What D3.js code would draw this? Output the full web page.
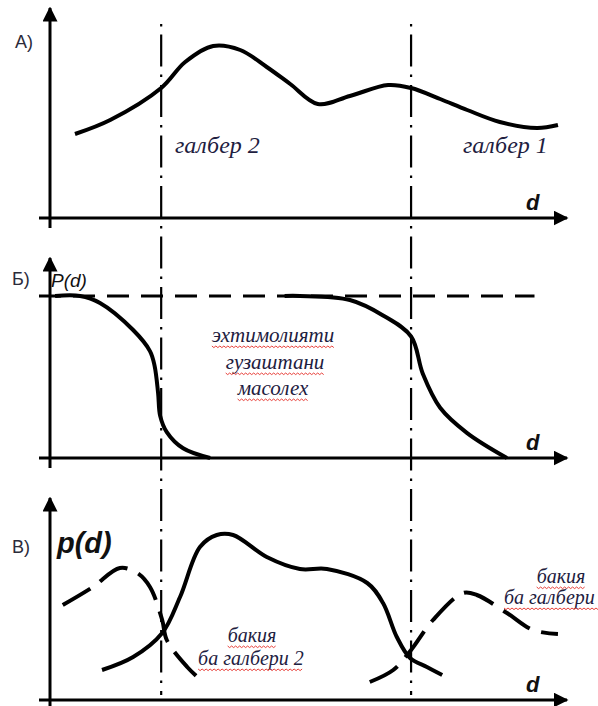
<!DOCTYPE html>
<meta charset="utf-8">
<head>
    <script src="https://d3js.org/d3.v7.min.js"></script>
    <style>
    body { margin: 0; background: white; }
    svg { background: white; display: block; }
    .lbl { font-family: "Liberation Sans", Arial, sans-serif; font-size: 18px; fill: #2b2b3a; }
    .note { font-family: "Liberation Serif", "Times New Roman", serif; font-style: italic; fill: #1e2040; }
    .dlab { font-family: "Liberation Sans", Arial, sans-serif; font-style: italic; fill: #111; }
    </style>
</head>
<body>
    <svg id="svgid" width="598" height="706"></svg>
    <script>
        // data (d in arbitrary units, values 0..1 per panel)
        var boundaries = [2.18, 7.08];   // галбер 2 / галбер 1

        var curveA = [[0.49,0.42],[1.18,0.49],[2.18,0.65],[2.65,0.78],[3.2,0.86],[3.73,0.84],
                      [4.25,0.755],[4.71,0.67],[5.25,0.57],[5.88,0.61],[6.63,0.665],[7.08,0.65],
                      [7.65,0.595],[8.18,0.54],[8.82,0.48],[9.55,0.45],[9.96,0.465]];

        var curveB1 = [[0.1,1.0],[0.59,1.0],[0.98,0.957],[1.63,0.79],[1.96,0.66],[2.05,0.57],
                       [2.12,0.4],[2.16,0.26],[2.29,0.16],[2.61,0.06],[3.14,0.0]];
        var curveB2 = [[4.6,1.0],[4.9,1.0],[5.88,0.975],[6.53,0.88],[7.08,0.75],[7.31,0.52],
                       [7.65,0.31],[8.18,0.154],[8.96,0.0]];

        var curveV  = [[1.02,0.15],[1.63,0.215],[2.2,0.335],[2.55,0.515],[2.94,0.765],[3.27,0.825],
                       [3.59,0.825],[4.25,0.715],[4.9,0.655],[5.43,0.655],[6.22,0.585],[6.53,0.485],
                       [6.8,0.315],[7.06,0.21],[7.39,0.165],[7.69,0.125]];
        var restLeft  = [[0.25,0.475],[0.84,0.565],[1.37,0.66],[1.71,0.635],[1.96,0.565],[2.2,0.4],
                         [2.29,0.3],[2.69,0.165],[3.0,0.09]];
        var restRight = [[6.27,0.09],[6.73,0.15],[7.08,0.25],[7.51,0.4],[8.1,0.535],[8.37,0.525],
                         [8.96,0.435],[9.47,0.35],[9.96,0.33]];

        var pLevel = 1;      // P(d) = 1 dashed line
        var levelEnd = 9.5;

        var svg = d3.select("#svgid");

        // arrow marker
        svg.append("defs").append("marker")
            .attr("id", "arr").attr("viewBox", "0 0 10 10")
            .attr("refX", 9).attr("refY", 5)
            .attr("markerWidth", 5).attr("markerHeight", 5)
            .attr("orient", "auto")
          .append("path").attr("d", "M0,0 L10,5 L0,10 z").attr("fill", "#000");

        var x = d3.scaleLinear().domain([0, 10]).range([50, 560]);
        var yA = d3.scaleLinear().domain([0, 1]).range([218, 18]);
        var yB = d3.scaleLinear().domain([0, 1]).range([458, 296]);
        var yV = d3.scaleLinear().domain([0, 1]).range([700, 500]);

        function line(y) {
            return d3.line().x(function(p){ return x(p[0]); }).y(function(p){ return y(p[1]); })
                .curve(d3.curveCatmullRom.alpha(0.5));
        }

        // axes for each panel
        function axes(y, top) {
            svg.append("line")
                .attr("x1", x(0)).attr("x2", x(0))
                .attr("y1", y(0) + 10).attr("y2", top)
                .attr("stroke", "#000").attr("stroke-width", 3)
                .attr("marker-end", "url(#arr)");
            svg.append("line")
                .attr("x1", x(0) - 11).attr("x2", 567)
                .attr("y1", y(0)).attr("y2", y(0))
                .attr("stroke", "#000").attr("stroke-width", 3)
                .attr("marker-end", "url(#arr)");
        }
        axes(yA, 8);
        axes(yB, 258);
        axes(yV, 498);

        // dash-dot boundaries
        svg.selectAll(".bound").data(boundaries).enter().append("line")
            .attr("class", "bound")
            .attr("x1", function(d){ return x(d); }).attr("x2", function(d){ return x(d); })
            .attr("y1", 24).attr("y2", 695)
            .attr("stroke", "#000").attr("stroke-width", 2.2)
            .attr("stroke-dasharray", "2.5,8,32,8");

        // P(d)=1 dashed level
        svg.append("line")
            .attr("x1", x(0) - 11).attr("x2", x(levelEnd))
            .attr("y1", yB(pLevel)).attr("y2", yB(pLevel))
            .attr("stroke", "#000").attr("stroke-width", 3)
            .attr("stroke-dasharray", "22,12");

        function draw(data, y, dash) {
            svg.append("path")
                .attr("d", line(y)(data))
                .attr("fill", "none").attr("stroke", "#000")
                .attr("stroke-width", 4).attr("stroke-linecap", "butt")
                .attr("stroke-dasharray", dash || null);
        }
        draw(curveA, yA);
        draw(curveB1, yB);
        draw(curveB2, yB);
        draw(curveV, yV);
        draw(restLeft, yV, "32,12");
        draw(restRight, yV, "32,12");

        // panel labels
        svg.append("text").attr("class", "lbl").attr("x", 15).attr("y", 48).text("А)");
        svg.append("text").attr("class", "lbl").attr("x", 12).attr("y", 285).text("Б)");
        svg.append("text").attr("class", "lbl").attr("x", 12).attr("y", 553).text("В)");

        // axis names
        [yA, yB, yV].forEach(function(y){
            svg.append("text").attr("class", "dlab").attr("font-size", 22)
                .style("font-weight", "bold")
                .attr("x", 526).attr("y", y(0) - 8).text("d");
        });
        svg.append("text").attr("class", "dlab").attr("font-size", 19)
            .style("font-weight", "normal")
            .attr("x", 51).attr("y", 287).text("P(d)");
        svg.append("text").attr("class", "dlab").attr("font-size", 29)
            .style("font-weight", "bold")
            .attr("x", 57).attr("y", 553).text("p(d)");

        // notes
        function note(txt, xx, yy, anchor, size, squiggle) {
            var t = svg.append("text").attr("class", "note")
                .attr("x", xx).attr("y", yy).attr("font-size", size)
                .attr("text-anchor", anchor).text(txt);
            if (squiggle) {
                var w = t.node().getComputedTextLength();
                var x0 = anchor === "middle" ? xx - w / 2 : xx;
                var pts = [];
                for (var i = 0; i <= w; i += 2) pts.push([x0 + i, yy + 4 + (i % 4 === 0 ? 0 : 1.6)]);
                svg.append("path").attr("d", d3.line()(pts))
                    .attr("fill", "none").attr("stroke", "#e8403a").attr("stroke-width", 1);
            }
        }
        note("галбер 2", 175, 153, "start", 24, false);
        note("галбер 1", 463, 153, "start", 24, false);
        note("эхтимолияти", 273, 342, "middle", 21, true);
        note("гузаштани", 275, 369, "middle", 21, true);
        note("масолех", 273, 395, "middle", 21, true);
        note("бакия", 252, 642, "middle", 20, true);
        note("ба галбери 2", 251, 665, "middle", 20, true);
        note("бакия", 561, 583, "middle", 20, true);
        note("ба галбери 1", 504, 604, "start", 20, true);
    </script>
</body>
